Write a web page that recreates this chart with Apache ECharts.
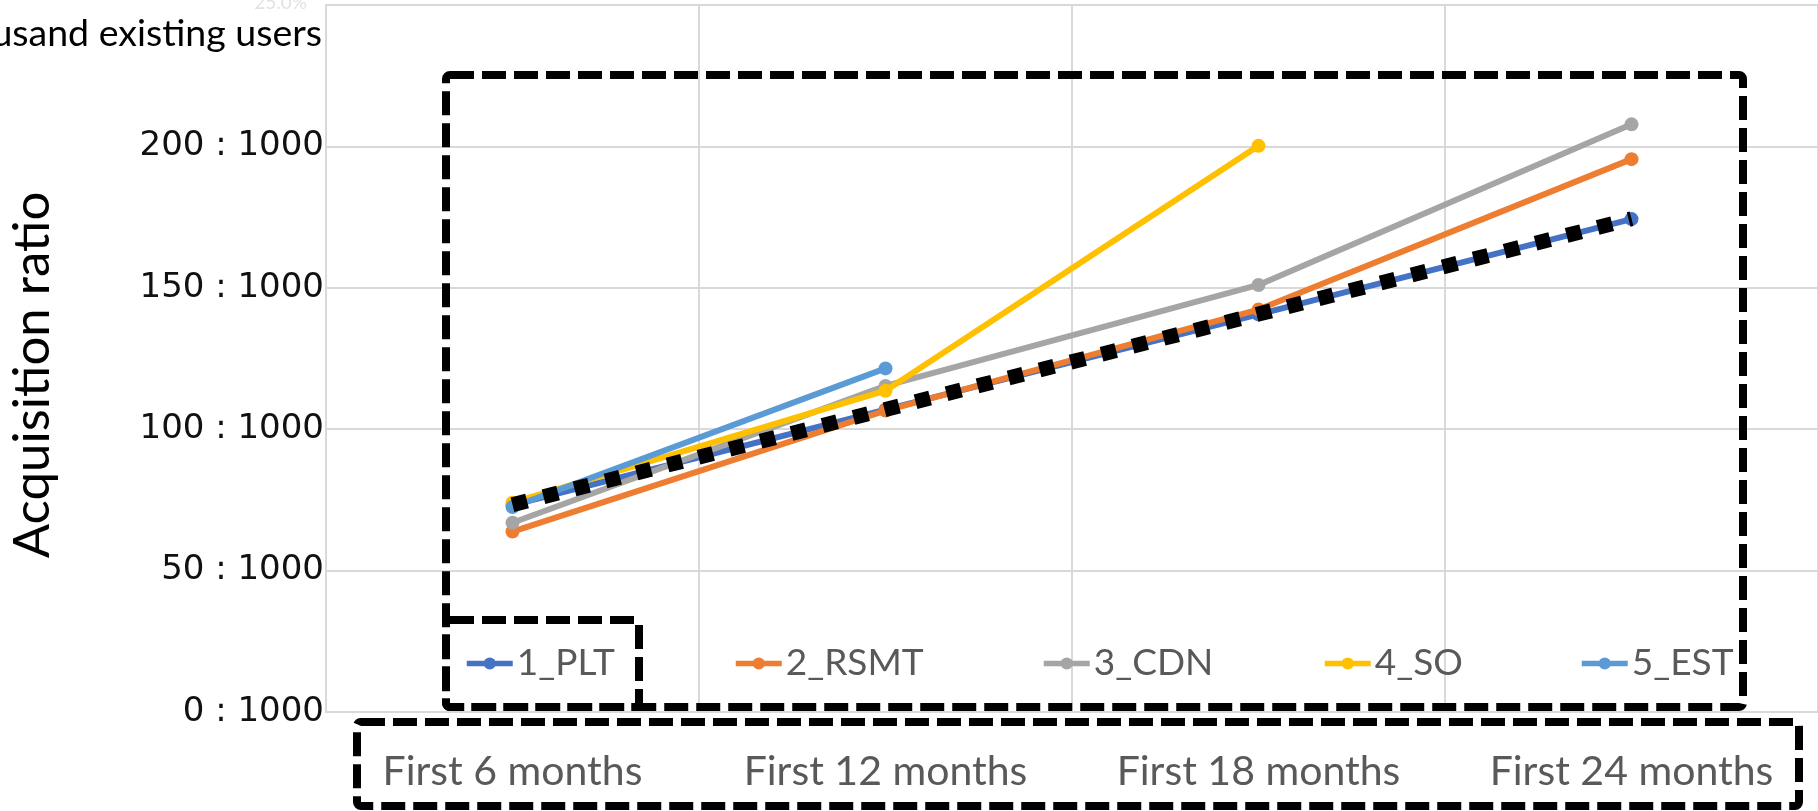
<!DOCTYPE html>
<html>
<head>
<meta charset="utf-8">
<title>Acquisition ratio</title>
<script src="https://cdn.jsdelivr.net/npm/echarts@6/dist/echarts.min.js"></script>
<style>
  html, body { margin: 0; padding: 0; background: #fff; }
  #chart { width: 1818px; height: 811px; }
</style>
</head>
<body>
<div id="chart"></div>
<script>
// Periods on the horizontal axis
const periods = ['First 6 months', 'First 12 months', 'First 18 months', 'First 24 months'];

// Customers acquired per 1000 existing users, by project
const plt  = [73.2, 106.9, 140.6, 174.3];
const rsmt = [63.8, 106.6, 142.3, 195.5];
const cdn  = [66.9, 115.3, 151.0, 207.8];
const so   = [74.0, 113.6, 200.2, null];
const est  = [72.5, 121.5, null, null];

// Linear trend drawn over 1_PLT
const pltTrend = [73.3, 107.0, 140.7, 174.4];

// Value-axis ticks
const yTicks = [0, 50, 100, 150, 200, 250];

const seriesDefs = [
  { name: '1_PLT',  data: plt,  color: '#4472C4' },
  { name: '2_RSMT', data: rsmt, color: '#ED7D31' },
  { name: '3_CDN',  data: cdn,  color: '#A5A5A5' },
  { name: '4_SO',   data: so,   color: '#FFC000' },
  { name: '5_EST',  data: est,  color: '#5B9BD5' }
];

// left edge of each legend entry
const legendLefts = [459, 728, 1036, 1317, 1574];

const chart = echarts.init(document.getElementById('chart'), null, { renderer: 'canvas' });

const gridLine = { color: '#d9d9d9', width: 2 };
const dashBox = { fill: null, stroke: '#000', lineWidth: 8, lineDash: [24, 8] };

const option = {
  animation: false,
  backgroundColor: '#ffffff',
  grid: { left: 326, top: 5, width: 1500, height: 707, containLabel: false },
  legend: seriesDefs.map((s, i) => ({
    data: [s.name],
    left: legendLefts[i],
    top: 640,
    itemWidth: 46,
    itemHeight: 15,
    itemGap: 0,
    lineStyle: { width: 5.5 },
    textStyle: { color: '#595959', fontFamily: 'Lato', fontSize: 37, padding: [0, 0, 0, -1] }
  })),
  xAxis: {
    type: 'category',
    data: periods,
    boundaryGap: true,
    axisLine: { show: true, lineStyle: gridLine },
    axisTick: { show: false },
    splitLine: { show: true, lineStyle: gridLine },
    axisLabel: { color: '#595959', fontFamily: 'Lato', fontSize: 41, margin: 39, interval: 0 }
  },
  yAxis: {
    type: 'value',
    min: yTicks[0],
    max: yTicks[yTicks.length - 1],
    interval: 50,
    axisLine: { show: true, lineStyle: gridLine },
    axisTick: { show: false },
    splitLine: { show: true, lineStyle: gridLine },
    axisLabel: {
      color: '#111',
      fontFamily: 'DejaVu Sans',
      fontSize: 34,
      margin: 2,
      formatter: v => (v === yTicks[yTicks.length - 1] ? '' : v + ' : 1000')
    }
  },
  series: seriesDefs.map((s, i) => ({
    name: s.name,
    type: 'line',
    data: s.data,
    connectNulls: false,
    symbol: 'circle',
    symbolSize: 14,
    z: 2 + i,
    color: s.color,
    itemStyle: { color: s.color },
    lineStyle: { color: s.color, width: 6 }
  })).concat([{
    name: 'PLT trend',
    type: 'line',
    data: pltTrend,
    symbol: 'none',
    z: 20,
    silent: true,
    lineStyle: { color: '#000', width: 15, type: [15, 17], cap: 'butt' }
  }]),
  graphic: [
    {
      type: 'text', z: 50,
      style: { text: 'usand existing users', x: 322, y: 34, textAlign: 'right', textVerticalAlign: 'middle',
               font: '37.5px Lato', fill: '#000' }
    },
    {
      type: 'text', z: 50,
      style: { text: '25.0%', x: 307, y: 3, textAlign: 'right', textVerticalAlign: 'middle',
               font: '19px Lato', fill: '#e3e3e3' }
    },
    {
      type: 'text', z: 50, rotation: Math.PI / 2, x: 33, y: 375,
      style: { text: 'Acquisition ratio', x: 0, y: 0, textAlign: 'center', textVerticalAlign: 'middle',
               font: '51px Lato', fill: '#000' }
    },
    // dashed annotation frames
    { type: 'rect', z: 100, shape: { x: 446, y: 75, width: 1297, height: 632, r: 4 }, style: dashBox },
    { type: 'rect', z: 100, shape: { x: 446, y: 620, width: 193, height: 87, r: 4 }, style: dashBox },
    { type: 'rect', z: 100, shape: { x: 357, y: 722, width: 1442, height: 84, r: 4 }, style: dashBox }
  ]
};

chart.setOption(option);
</script>
</body>
</html>
